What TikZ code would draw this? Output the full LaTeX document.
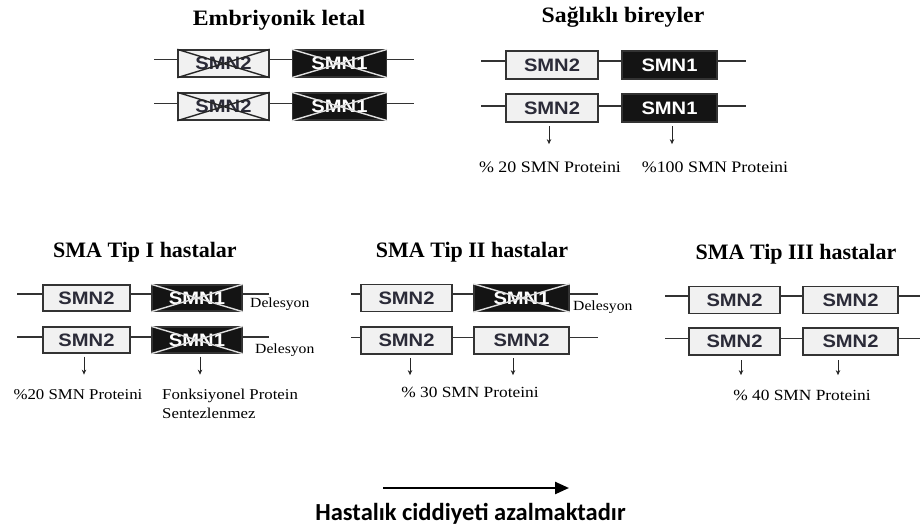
\documentclass[tikz,border=0pt]{standalone}
\usepackage{fontspec}
\setmainfont{Liberation Serif}
\newfontfamily\titlefont{Liberation Serif}
\newfontfamily\toptitlefont[FakeStretch=1.08]{Liberation Serif}
\newfontfamily\lblfont[FakeStretch=1.12]{Liberation Serif}
\newfontfamily\genefont[FakeStretch=1.12]{Liberation Sans}
\newfontfamily\capfont{Carlito}
\usetikzlibrary{arrows.meta}
\definecolor{boxgray}{HTML}{F1F1F1}
\definecolor{edgecol}{HTML}{333333}
\definecolor{genetext}{HTML}{2B2B38}
\begin{document}
\begin{tikzpicture}[x=1pt,y=-1pt,
  wire/.style={draw=edgecol, line width=1.1pt},
  gene/.style={draw=edgecol, line width=1.3pt, minimum height=27pt, inner sep=0pt,
    font=\genefont\bfseries\fontsize{18}{20}\selectfont},
  smntwo/.style={gene, fill=boxgray, text=genetext, minimum width=91pt},
  smnone/.style={gene, fill=black!92, text=white, minimum width=94pt},
  crossdark/.style={draw=black!85, line width=1.4pt},
  crosslight/.style={draw=white!88!black, line width=1.4pt},
  title/.style={font=\titlefont\bfseries\fontsize{22}{26}\selectfont, anchor=base, inner sep=0pt},
  toptitle/.style={font=\toptitlefont\bfseries\fontsize{22}{26}\selectfont, anchor=base, inner sep=0pt},
  lbl/.style={font=\lblfont\fontsize{15.5}{19}\selectfont, anchor=base, inner sep=0pt},
  dele/.style={font=\lblfont\fontsize{14}{16}\selectfont, anchor=base west, inner sep=0pt},
  down/.style={draw=black!85, line width=1pt, -{Stealth[length=5pt,width=4.5pt]}},
  bigarrow/.style={draw=black, line width=2.4pt, -{Triangle[length=14pt,width=12pt]}},
]
\useasboundingbox (0,0) rectangle (920,526);

% ---------- Embriyonik letal ----------
\node[toptitle] (tE) at (279,26) {Embriyonik letal};
\node[smntwo] (e11) at (223.5,63.5) {SMN2};
\node[smnone] (e12) at (339.5,63.5) {SMN1};
\node[smntwo] (e21) at (223.5,106.5) {SMN2};
\node[smnone] (e22) at (339.5,106.5) {SMN1};
\draw[wire] ([yshift=4pt]e11.west) -- ++(-23,0);
\draw[wire] ([yshift=4pt]e11.east) -- ([yshift=4pt]e12.west);
\draw[wire] ([yshift=4pt]e12.east) -- ++(27,0);
\draw[wire] ([yshift=3pt]e21.west) -- ++(-23,0);
\draw[wire] ([yshift=3pt]e21.east) -- ([yshift=3pt]e22.west);
\draw[wire] ([yshift=3pt]e22.east) -- ++(27,0);
\draw[crossdark] (e11.north west) -- (e11.south east) (e11.south west) -- (e11.north east);
\draw[crossdark] (e21.north west) -- (e21.south east) (e21.south west) -- (e21.north east);
\draw[crosslight] (e12.north west) -- (e12.south east) (e12.south west) -- (e12.north east);
\draw[crosslight] (e22.north west) -- (e22.south east) (e22.south west) -- (e22.north east);

% ---------- Saglikli bireyler ----------
\node[toptitle] (tS) at (623,23) {Sağlıklı bireyler};
\node[smntwo, minimum width=92pt, minimum height=28pt] (s11) at (552,65) {SMN2};
\node[smnone, minimum width=95pt, minimum height=28pt] (s12) at (669.5,65) {SMN1};
\node[smntwo, minimum width=92pt, minimum height=28pt] (s21) at (552,108) {SMN2};
\node[smnone, minimum width=95pt, minimum height=28pt] (s22) at (669.5,108) {SMN1};
\draw[wire] ([yshift=4pt]s11.west) -- ++(-24,0);
\draw[wire] ([yshift=4pt]s11.east) -- ([yshift=4pt]s12.west);
\draw[wire] ([yshift=4pt]s12.east) -- ++(28,0);
\draw[wire] ([yshift=2pt]s21.west) -- ++(-24,0);
\draw[wire] ([yshift=2pt]s21.east) -- ([yshift=2pt]s22.west);
\draw[wire] ([yshift=2pt]s22.east) -- ++(28,0);
\draw[down] ([xshift=-3pt,yshift=-3.5pt]s21.south) -- ++(0,18);
\draw[down] ([xshift=2.5pt,yshift=-3.5pt]s22.south) -- ++(0,18);
\node[lbl, font=\lblfont\fontsize{16}{19}\selectfont] (sp20) at (550,173) {\% 20 SMN Proteini};
\node[lbl, font=\lblfont\fontsize{16}{19}\selectfont] (sp100) at (715,173) {\%100 SMN Proteini};

% ---------- SMA Tip I ----------
\node[title] (t1) at (145,258) {SMA Tip I hastalar};
\node[smntwo, minimum width=87pt, minimum height=26pt] (a11) at (86.5,298) {SMN2};
\node[smnone, minimum width=90pt, minimum height=26pt] (a12) at (197,298) {SMN1};
\node[smntwo, minimum width=87pt, minimum height=26pt] (a21) at (86.5,340) {SMN2};
\node[smnone, minimum width=90pt, minimum height=26pt] (a22) at (197,340) {SMN1};
\draw[wire] ([yshift=4pt]a11.west) -- ++(-25,0);
\draw[wire] ([yshift=4pt]a11.east) -- ([yshift=4pt]a12.west);
\draw[wire] ([yshift=4pt]a12.east) -- ++(26,0);
\draw[wire] ([yshift=3pt]a21.west) -- ++(-25,0);
\draw[wire] ([yshift=3pt]a21.east) -- ([yshift=3pt]a22.west);
\draw[wire] ([yshift=3pt]a22.east) -- ++(26,0);
\draw[crosslight] (a12.north west) -- (a12.south east) (a12.south west) -- (a12.north east);
\draw[crosslight] (a22.north west) -- (a22.south east) (a22.south west) -- (a22.north east);
\node[dele] (d11) at (250,308) {Delesyon};
\node[dele] (d12) at (255,353) {Delesyon};
\draw[down] ([xshift=-2.5pt,yshift=-3pt]a21.south) -- ++(0,18);
\draw[down] ([xshift=3pt,yshift=-3pt]a22.south) -- ++(0,18);
\node[lbl, font=\lblfont\fontsize{15}{19}\selectfont] (ap20) at (78,399) {\%20 SMN Proteini};
\node[lbl, font=\lblfont\fontsize{15}{19}\selectfont, anchor=north west, align=left] (afp) at (162,388.5) {Fonksiyonel Protein\\Sentezlenmez};

% ---------- SMA Tip II ----------
\node[title] (t2) at (472,258) {SMA Tip II hastalar};
\node[smntwo] (b11) at (406.5,298) {SMN2};
\node[smnone, minimum width=95pt] (b12) at (521.5,298) {SMN1};
\node[smntwo] (b21) at (406.5,340.5) {SMN2};
\node[smntwo, minimum width=95pt] (b22) at (521.5,340.5) {SMN2};
\draw[wire] ([yshift=4pt]b11.west) -- ++(-9,0);
\draw[wire] ([yshift=4pt]b11.east) -- ([yshift=4pt]b12.west);
\draw[wire] ([yshift=4pt]b12.east) -- ++(28,0);
\draw[wire] ([yshift=3pt]b21.west) -- ++(-9,0);
\draw[wire] ([yshift=3pt]b21.east) -- ([yshift=3pt]b22.west);
\draw[wire] ([yshift=3pt]b22.east) -- ++(28,0);
\draw[crosslight] (b12.north west) -- (b12.south east) (b12.south west) -- (b12.north east);
\node[dele] (d21) at (573,311) {Delesyon};
\draw[down] ([xshift=3.5pt,yshift=-3.5pt]b21.south) -- ++(0,17);
\draw[down] ([xshift=-8.5pt,yshift=-3.5pt]b22.south) -- ++(0,17);
\node[lbl] (bp30) at (470,397) {\% 30 SMN Proteini};

% ---------- SMA Tip III ----------
\node[title] (t3) at (796,260) {SMA Tip III hastalar};
\node[smntwo] (c11) at (734.5,300) {SMN2};
\node[smntwo, minimum width=95pt] (c12) at (850.5,300) {SMN2};
\node[smntwo] (c21) at (734.5,341.5) {SMN2};
\node[smntwo, minimum width=95pt] (c22) at (850.5,341.5) {SMN2};
\draw[wire] ([yshift=4pt]c11.west) -- ++(-23,0);
\draw[wire] ([yshift=4pt]c11.east) -- ([yshift=4pt]c12.west);
\draw[wire] ([yshift=4pt]c12.east) -- ++(24,0);
\draw[wire] ([yshift=3pt]c21.west) -- ++(-23,0);
\draw[wire] ([yshift=3pt]c21.east) -- ([yshift=3pt]c22.west);
\draw[wire] ([yshift=3pt]c22.east) -- ++(24,0);
\draw[down] ([xshift=6.5pt,yshift=-4.5pt]c21.south) -- ++(0,15);
\draw[down] ([xshift=-12.5pt,yshift=-4.5pt]c22.south) -- ++(0,15);
\node[lbl] (cp40) at (802,400) {\% 40 SMN Proteini};

% ---------- severity arrow ----------
\coordinate (ha) at (383,488);
\coordinate (hb) at (569,488);
\draw[bigarrow] (ha) -- (hb);
\node[font=\capfont\bfseries\fontsize{24.5}{28}\selectfont, anchor=base, inner sep=0pt] (cap) at (470.5,520) {Hastalık ciddiyeti azalmaktadır};
\end{tikzpicture}
\end{document}
